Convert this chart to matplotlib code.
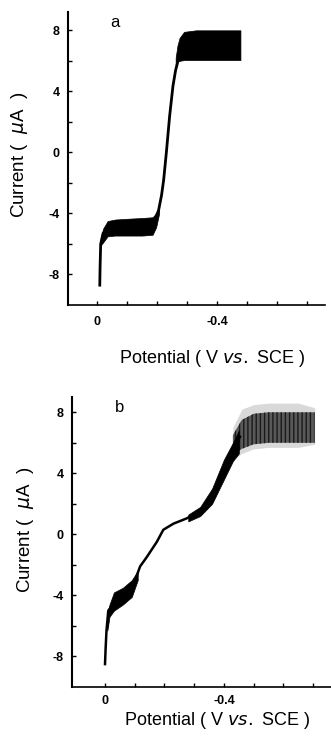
import matplotlib
matplotlib.use("Agg")
import matplotlib.pyplot as plt
import numpy as np

## panel a : mean trace and the two noisy bands (potential as -V)
a_pot = [0.009, 0.010, 0.012, 0.02, 0.05, 0.10, 0.15, 0.19, 0.205, 0.215, 0.222, 0.231, 0.242, 0.253, 0.262, 0.27]
a_cur = [-8.7, -7.5, -6.0, -5.3, -5.0, -4.9, -4.85, -4.5, -3.8, -2.8, -1.8, 0.0, 2.4, 4.35, 5.4, 6.0]

a_low_pot = [0.012, 0.02, 0.035, 0.06, 0.10, 0.15, 0.185, 0.197, 0.207]
a_low_lo = [-6.1, -5.9, -5.5, -5.45, -5.45, -5.45, -5.4, -4.9, -4.0]
a_low_hi = [-5.6, -5.0, -4.5, -4.4, -4.35, -4.3, -4.25, -4.0, -3.7]

a_top_pot = [0.262, 0.268, 0.275, 0.29, 0.33, 0.38, 0.43, 0.478]
a_top_lo = [5.6, 5.95, 6.0, 6.05, 6.05, 6.05, 6.05, 6.05]
a_top_hi = [6.2, 7.0, 7.5, 7.9, 8.0, 8.0, 8.0, 8.0]

## panel b
b_pot = [0.0, 0.002, 0.005, 0.011, 0.03, 0.06, 0.09, 0.118, 0.14, 0.174, 0.196, 0.23, 0.275, 0.308, 0.342, 0.375, 0.409, 0.431, 0.454]
b_cur = [-8.5, -7.5, -6.3, -5.0, -4.5, -4.0, -3.6, -2.1, -1.5, -0.5, 0.3, 0.7, 1.05, 1.4, 2.0, 3.1, 4.6, 5.5, 6.4]

b_low_pot = [0.008, 0.015, 0.03, 0.06, 0.09, 0.11]
b_low_lo = [-6.3, -5.4, -5.0, -4.6, -4.1, -3.0]
b_low_hi = [-5.2, -4.6, -3.8, -3.5, -3.0, -2.4]

b_mid_pot = [0.28, 0.32, 0.36, 0.40, 0.43, 0.45]
b_mid_lo = [0.85, 1.2, 2.0, 3.6, 4.8, 5.3]
b_mid_hi = [1.3, 1.8, 3.0, 4.9, 6.0, 6.8]

b_top_pot = [0.43, 0.46, 0.50, 0.55, 0.60, 0.65, 0.705]
b_top_lo = [5.2, 5.6, 5.9, 6.0, 6.0, 6.0, 6.0]
b_top_hi = [6.5, 7.5, 7.9, 8.0, 8.0, 8.0, 8.0]
b_fade_lo = [4.9, 5.3, 5.6, 5.7, 5.7, 5.7, 5.9]
b_fade_hi = [7.0, 8.2, 8.5, 8.6, 8.6, 8.6, 8.3]

yticks = [8, 4, 0, -4, -8]
ytick_labels = ["8", "4", "0", "-4", "-8"]
xticks = [0.0, 0.4]
xtick_labels = ["0", "-0.4"]

fig = plt.figure(figsize=(3.31, 7.38), dpi=100)

def setup(ax, xlim, ylim, letter, letter_xy, xpad, xlab_y, ylab_xy):
    ax.set_xlim(*xlim)
    ax.set_ylim(*ylim)
    for s in ["top", "right"]:
        ax.spines[s].set_visible(False)
    ax.spines["left"].set_linewidth(1.5)
    ax.spines["bottom"].set_linewidth(1.2)
    ax.set_yticks(yticks)
    ax.set_yticklabels(ytick_labels, fontsize=9, family="Liberation Sans", fontweight="bold")
    ax.set_yticks([6, 2, -2, -6], minor=True)
    ax.set_xticks(xticks)
    ax.set_xticklabels(xtick_labels, fontsize=9, family="Liberation Sans", fontweight="bold")
    ax.set_xticks([0.1, 0.2, 0.3, 0.5, 0.6, 0.7], minor=True)
    ax.tick_params(which="both", direction="in", width=1, length=3)
    ax.tick_params(axis="y", pad=6)
    ax.tick_params(axis="x", pad=xpad)
    ax.set_ylabel("Current (  $\\mu$A  )", fontsize=13.5, family="Liberation Sans", va="center")
    ax.yaxis.set_label_coords(*ylab_xy)
    ax.set_xlabel("Potential ( V $\\it{vs.}$ SCE )", fontsize=13, family="Liberation Sans", va="center")
    ax.xaxis.set_label_coords(0.56, xlab_y)
    ax.text(letter_xy[0], letter_xy[1], letter, fontsize=12, family="Liberation Sans", va="center")

## panel a
ax1 = fig.add_axes([68/331, 1-305/738, (325-68)/331, (305-12)/738])
setup(ax1, (-0.097, 0.76), (-10, 9.2), "a", (0.043, 8.5), 8, -0.181, (-0.187, 0.512))
ax1.fill_between(a_low_pot, a_low_lo, a_low_hi, color="black", lw=0.5)
ax1.fill_between(a_top_pot, a_top_lo, a_top_hi, color="black", lw=0.5)
ax1.plot(a_pot, a_cur, color="black", lw=2)

## panel b
ax2 = fig.add_axes([72/331, 1-687/738, (331-72)/331, (687-397)/738])
setup(ax2, (-0.111, 0.76), (-10, 9.0), "b", (0.034, 8.3), 6, -0.114, (-0.181, 0.541))
ax2.fill_between(b_top_pot, b_fade_lo, b_fade_hi, color="0.85", lw=0)
ax2.fill_between(b_top_pot, b_top_lo, b_top_hi, facecolor="0.35", edgecolor="0.1", hatch="||||", lw=0)
ax2.fill_between(b_low_pot, b_low_lo, b_low_hi, color="black", lw=0.5)
ax2.fill_between(b_mid_pot, b_mid_lo, b_mid_hi, color="black", lw=0.5)
ax2.plot(b_pot, b_cur, color="black", lw=1.8)

fig.savefig("out.png", dpi=100)
